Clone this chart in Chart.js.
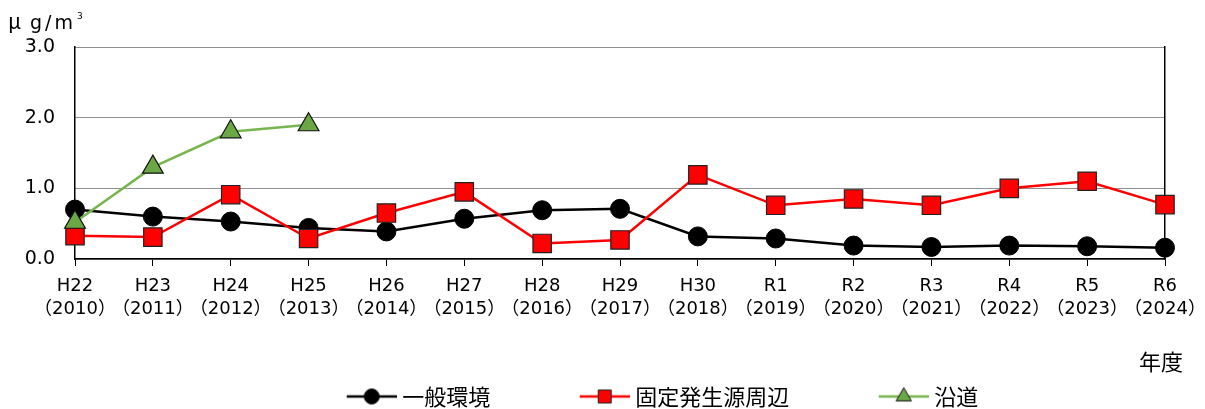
<!DOCTYPE html>
<html><head><meta charset="utf-8">
<script src="https://cdn.jsdelivr.net/npm/chart.js@4/dist/chart.umd.min.js"></script>
<style>html,body{margin:0;padding:0;background:#fff}canvas{display:block}</style>
</head><body>
<canvas id="c" width="1205" height="409"></canvas>
<script>
const categories = [
  ['H22','（2010）'],['H23','（2011）'],['H24','（2012）'],['H25','（2013）'],['H26','（2014）'],
  ['H27','（2015）'],['H28','（2016）'],['H29','（2017）'],['H30','（2018）'],['R1','（2019）'],
  ['R2','（2020）'],['R3','（2021）'],['R4','（2022）'],['R5','（2023）'],['R6','（2024）']
];
const seriesNames = ['一般環境','固定発生源周辺','沿道'];
const generalEnv  = [0.70,0.60,0.53,0.44,0.39,0.57,0.69,0.71,0.32,0.29,0.19,0.17,0.19,0.18,0.16];
const fixedSource = [0.33,0.31,0.91,0.29,0.65,0.95,0.22,0.27,1.19,0.76,0.85,0.76,1.00,1.10,0.77];
const roadside    = [0.52,1.30,1.80,1.90,null,null,null,null,null,null,null,null,null,null,null];
const yTickLabels = ['0.0','1.0','2.0','3.0'];
const unitLabel = ['μ','g/m','3'];
const xAxisTitle = '年度';

const CJK = '"Noto Sans CJK JP", "Noto Sans", sans-serif';
const NUM = '"DejaVu Sans", "Noto Sans CJK JP", sans-serif';
const LP = 0, RP = -40.4;

function makeIcon(ds, r) {
  const c = document.createElement('canvas');
  c.width = 135; c.height = 26;
  const g = c.getContext('2d');
  g.strokeStyle = ds.borderColor; g.lineWidth = ds.borderWidth;
  g.beginPath(); g.moveTo(85, 13); g.lineTo(135, 13); g.stroke();
  g.fillStyle = ds.pointBackgroundColor; g.strokeStyle = ds.pointBorderColor; g.lineWidth = 1;
  Chart.helpers.drawPoint(g, {pointStyle: ds.pointStyle, radius: r, rotation: 0, borderWidth: 1}, 110, 13);
  return c;
}
const legendRadius = [7.5, 9.2, 8.8];

const textPlugin = {
  id: 'texts',
  afterDraw(chart) {
    const ctx = chart.ctx;
    ctx.save();
    ctx.fillStyle = '#000';
    ctx.textBaseline = 'alphabetic';
    ctx.textAlign = 'left';
    ctx.font = '21px ' + CJK;
    ctx.fillText(unitLabel[0], 8, 29);
    ctx.font = '19px ' + NUM;
    ctx.letterSpacing = '3px';
    ctx.fillText(unitLabel[1], 30, 29);
    ctx.letterSpacing = '0px';
    ctx.font = '9px ' + NUM;
    ctx.fillText(unitLabel[2], 77, 19);
    ctx.font = '22px ' + CJK;
    ctx.textAlign = 'right';
    ctx.textBaseline = 'middle';
    ctx.fillText(xAxisTitle, 1183, 362);
    ctx.restore();
  }
};

new Chart(document.getElementById('c'), {
  type: 'line',
  data: {
    labels: categories,
    datasets: [
      {label: seriesNames[0], data: generalEnv, borderColor: '#000', borderWidth: 2.5,
       pointStyle: 'circle', pointRadius: 9.5, pointBackgroundColor: '#000', pointBorderColor: '#000', pointBorderWidth: 1, order: 3, clip: false},
      {label: seriesNames[1], data: fixedSource, borderColor: '#FF0000', borderWidth: 2.5,
       pointStyle: 'rect', pointRadius: 13, pointBackgroundColor: '#FF0000', pointBorderColor: '#222', pointBorderWidth: 1.2, order: 2, clip: false},
      {label: seriesNames[2], data: roadside, borderColor: '#77B54E', borderWidth: 2.5,
       pointStyle: 'triangle', pointRadius: 12, pointBackgroundColor: '#6BA845', pointBorderColor: '#111', pointBorderWidth: 1.2, order: 1, clip: false, spanGaps: false}
    ]
  },
  options: {
    responsive: false,
    animation: false,
    devicePixelRatio: 1,
    layout: {padding: {left: LP, right: RP, top: 47, bottom: -8.5}},
    plugins: {
      tooltip: {enabled: false},
      legend: {
        position: 'bottom',
        align: 'center',
        labels: {
          usePointStyle: true,
          pointStyleWidth: 124,
          padding: 10,
          color: '#000',
          font: {family: CJK, size: 22},
          generateLabels(chart) {
            return chart.data.datasets.map((ds, i) => ({
              text: ds.label, pointStyle: makeIcon(ds, legendRadius[i]), datasetIndex: i,
              fillStyle: 'rgba(0,0,0,0)', strokeStyle: 'rgba(0,0,0,0)', lineWidth: 0, hidden: false
            }));
          }
        }
      }
    },
    scales: {
      x: {
        type: 'category',
        offset: false,
        grid: {display: true, drawOnChartArea: false, drawTicks: true, tickLength: 7, tickColor: '#000', tickWidth: 1},
        border: {display: true, color: '#000', width: 1.5},
        ticks: {autoSkip: false, maxRotation: 0, minRotation: 0, padding: 9.5, color: '#000',
                font: {family: NUM, size: 18, lineHeight: 1.24}},
        afterFit(s) { s.height = 116.5; s.paddingLeft = 0; s.paddingRight = 0; }
      },
      y: {
        min: 0, max: 3,
        position: 'left',
        grid: {display: true, drawTicks: false, color: '#222', lineWidth: 1, borderDash: [1, 1]},
        border: {display: true, color: '#000', width: 1.5, dash: [1, 1]},
        ticks: {stepSize: 1, padding: 20, color: '#000', font: {family: NUM, size: 19},
                callback: (v) => yTickLabels[Math.round(v)]},
        afterFit(s) { s.width = 75 - LP; s.paddingTop = 0; s.paddingBottom = 0; }
      },
      y2: {
        min: 0, max: 3,
        position: 'right',
        grid: {display: false, drawTicks: false},
        border: {display: true, color: '#000', width: 1.5},
        ticks: {display: false},
        afterFit(s) { s.width = 1205 - RP - 1165; s.paddingTop = 0; s.paddingBottom = 0; }
      }
    }
  },
  plugins: [textPlugin]
});
</script>
</body></html>
